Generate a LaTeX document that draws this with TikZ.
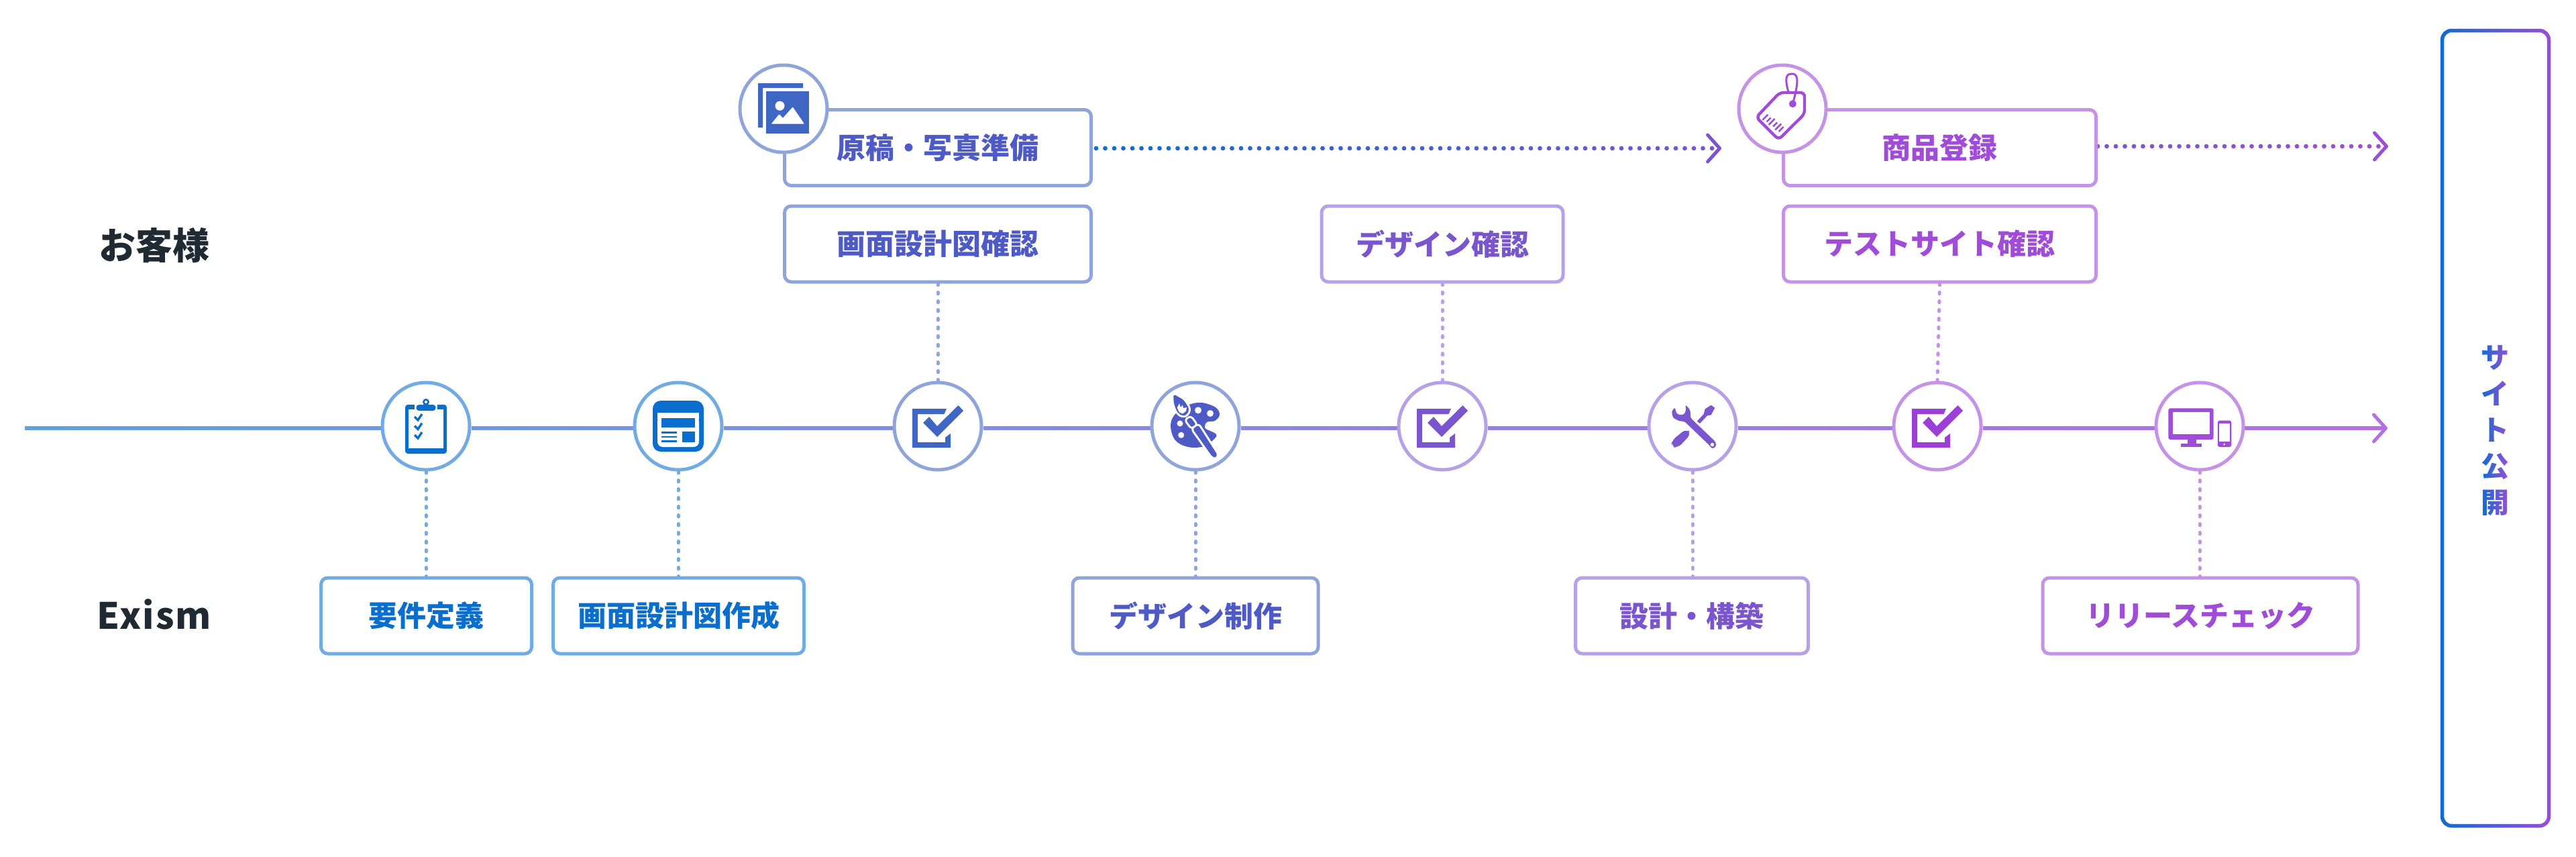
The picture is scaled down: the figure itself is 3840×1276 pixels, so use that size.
\documentclass[tikz,border=0pt]{standalone}
\usepackage{fontspec}
\setmainfont{Noto Sans CJK JP}
\newfontfamily\latinspaced{Noto Sans CJK JP}[LetterSpace=4]
\usetikzlibrary{arrows.meta,backgrounds}
\definecolor{ink}{HTML}{1F2A33}
% icon / text colours along the global blue-to-purple gradient
\definecolor{tA}{HTML}{0A6ECE}
\definecolor{tB}{HTML}{4E5AC6}
\definecolor{iB}{HTML}{4066C4}
\definecolor{tC}{HTML}{7B55CE}
\definecolor{tD}{HTML}{A04CD8}
\definecolor{iD}{HTML}{9C3FD4}
% lighter border colours
\definecolor{lA}{HTML}{70ACE2}
\definecolor{lB}{HTML}{90A4DC}
\definecolor{lC}{HTML}{B6A0E8}
\definecolor{lD}{HTML}{C692E8}
\tikzset{
  box/.style={draw, rounded corners=5pt, line width=2.5pt, fill=white, inner sep=0pt,
    minimum height=56.5pt, font=\fontsize{21.5}{26}\selectfont\bfseries},
  stepdot/.style={circle, draw, fill=white, line width=2.5pt, minimum size=65pt, inner sep=0pt},
  lane/.style={text=ink, inner sep=0pt},
  mainline/.style={draw=black, line width=2.75pt},
  mainarrow/.style={draw=black, line width=2.75pt, line cap=round,
    -{Straight Barb[round,length=9pt,width=20pt,line width=2.5pt]}},
  flowdots/.style={draw=black, line width=3.4pt, line cap=round, dash pattern=on 0pt off 6.75pt,
    -{Straight Barb[round,length=9pt,width=20pt,line width=2.5pt]}},
  linkdots/.style={line width=2.5pt, line cap=round, dash pattern=on 1.2pt off 5.3pt},
  tintstrip/.style={blend mode=screen, draw=none},
}
\newcommand{\iconcheck}[2]{%
  \begin{scope}[shift={(#1.center)}]
    \fill[#2] (-38,-26) -- (13,-26) -- (9.5,-18) -- (-30,-18) -- (-30,24) -- (11,24) -- (11,17)
      -- (19,11) -- (19,32) -- (-38,32) -- cycle;
    \fill[#2] (-22,-5) -- (-13,-14) -- (-1,0) -- (30.5,-31) -- (38,-23) -- (-1,16) -- cycle;
  \end{scope}}
\begin{document}
\begin{tikzpicture}[x=0.5pt,y=-0.5pt]
\useasboundingbox (0,0) rectangle (3840,1276);

% ---------- nodes: upper lane boxes
\node[box,draw=lB,text=tB,minimum width=228.5pt] (photo) at (1398,220) {原稿・写真準備};
\node[box,draw=lB,text=tB,minimum width=228.5pt] (confA) at (1398,363.5) {画面設計図確認};
\node[box,draw=lC,text=tC,minimum width=180pt] (confB) at (2150,363.5) {デザイン確認};
\node[box,draw=lD,text=tD,minimum width=233pt] (goods) at (2891.5,220) {商品登録};
\node[box,draw=lD,text=tD,minimum width=233pt] (confC) at (2891.5,363.5) {テストサイト確認};
% ---------- nodes: lower lane boxes
\node[box,draw=lA,text=tA,minimum width=157pt] (reqs) at (635.5,917.5) {要件定義};
\node[box,draw=lA,text=tA,minimum width=187pt] (wire) at (1011.5,917.5) {画面設計図作成};
\node[box,draw=lB,text=tB,minimum width=183pt] (dsgn) at (1782,917.5) {デザイン制作};
\node[box,draw=lC,text=tC,minimum width=173.5pt] (build) at (2522,917.5) {設計・構築};
\node[box,draw=lD,text=tD,minimum width=235pt] (check) at (3280,917.5) {リリースチェック};

% ---------- nodes: timeline circles
\node[stepdot,draw=lA] (c1) at (635,635) {};
\node[stepdot,draw=lA] (c2) at (1011,635) {};
\node[stepdot,draw=lB] (c3) at (1398,635) {};
\node[stepdot,draw=lB] (c4) at (1782,635) {};
\node[stepdot,draw=lC] (c5) at (2150,635) {};
\node[stepdot,draw=lC] (c6) at (2523,635) {};
\node[stepdot,draw=lD] (c7) at (2888,635) {};
\node[stepdot,draw=lD] (c8) at (3279,635) {};
\node[stepdot,draw=lB] (cPhoto) at (1168,162) {};
\node[stepdot,draw=lD] (cTag) at (2657,162) {};

% ---------- lane labels
\node[lane,font=\fontsize{27.5}{30}\selectfont\bfseries] (lanecust) at (230,366) {お客様};
\node[lane,font=\fontsize{27}{30}\selectfont\bfseries\latinspaced] (laneex) at (230,915) {Exism};

\coordinate (start) at (37,638);
\coordinate (end) at (3559,638);
\coordinate (endA) at (2566,221);
\coordinate (endB) at (3560,218);

\begin{scope}[on background layer]
  \fill[white] (0,0) rectangle (3840,1276);
  % timeline: black strokes tinted by a screen-blended gradient
  \draw[mainline] (start) -- ([yshift=-1.5pt]c1.west);
  \draw[mainline] ([yshift=-1.5pt]c1.east) -- ([yshift=-1.5pt]c2.west);
  \draw[mainline] ([yshift=-1.5pt]c2.east) -- ([yshift=-1.5pt]c3.west);
  \draw[mainline] ([yshift=-1.5pt]c3.east) -- ([yshift=-1.5pt]c4.west);
  \draw[mainline] ([yshift=-1.5pt]c4.east) -- ([yshift=-1.5pt]c5.west);
  \draw[mainline] ([yshift=-1.5pt]c5.east) -- ([yshift=-1.5pt]c6.west);
  \draw[mainline] ([yshift=-1.5pt]c6.east) -- ([yshift=-1.5pt]c7.west);
  \draw[mainline] ([yshift=-1.5pt]c7.east) -- ([yshift=-1.5pt]c8.west);
  \draw[mainarrow] ([yshift=-1.5pt]c8.east) -- (end);
  \shade[tintstrip,left color=tA!65!white,middle color=tC!62!lB,right color=tD!80!white] (30,610) rectangle (3570,668);
  % dotted arrows
  \draw[flowdots,shorten <=2.5pt] ([yshift=-0.5pt]photo.east) -- (endA);
  \shade[tintstrip,left color=tA,right color=tC] (1630,190) rectangle (2575,250);
  \draw[flowdots] ([yshift=1pt]goods.east) -- (endB);
  \shade[tintstrip,left color=tC,right color=tD] (3127,190) rectangle (3570,250);
  % vertical dotted links
  \draw[linkdots,draw=lB] (confA.south) -- (c3.north);
  \draw[linkdots,draw=lC] (confB.south) -- (c5.north);
  \draw[linkdots,draw=lD] (confC.south) -- (c7.north);
  \draw[linkdots,draw=lA] (c1.south) -- (c1.south |- reqs.north);
  \draw[linkdots,draw=lA] (c2.south) -- (c2.south |- wire.north);
  \draw[linkdots,draw=lB] (c4.south) -- (c4.south |- dsgn.north);
  \draw[linkdots,draw=lC] (c6.south) -- (c6.south |- build.north);
  \draw[linkdots,draw=lD] (c8.south) -- (c8.south |- check.north);
  % release box with gradient outline
  \node[draw=black,line width=2.75pt,rounded corners=7pt,inner sep=0pt,minimum width=79.5pt,minimum height=592.5pt] (site) at (3720,638) {};
  \shade[tintstrip,left color=tA,right color=tD] (3630,36) rectangle (3810,1240);
  \node[text=black,inner sep=0pt,align=center,font=\fontsize{21}{27}\selectfont\bfseries] (sitelabel) at (3719,642) {サ\\イ\\ト\\公\\開};
  \shade[tintstrip,left color=tA,right color=tD] (3698,500) rectangle (3741,785);
\end{scope}

% ---------- icons
% clipboard
\begin{scope}[shift={(c1.center)}]
  \fill[tA,rounded corners=2pt] (-31,-32) rectangle (31,41);
  \fill[white] (-26,-25) rectangle (26,33);
  \fill[white] (-17,-33) rectangle (17,-24);
  \fill[tA,rounded corners=2pt] (-14.5,-32) rectangle (14.5,-23);
  \fill[tA] (0,-36) circle[radius=5];
  \fill[white] (0,-36) circle[radius=2];
  \foreach \yy in {-13,0.5,14}{
    \draw[tA,line width=1.7pt] (-17,\yy-1) -- (-12,\yy+4) -- (-6,\yy-5);
  }
\end{scope}
% page layout
\begin{scope}[shift={(c2.center)}]
  \fill[tA,rounded corners=6pt] (-38,-38) rectangle (38,38);
  \fill[white,rounded corners=4pt] (-31,-15) -- (-31,31) -- (31,31) -- (31,-15) -- cycle;
  \fill[white] (-31,-20) rectangle (31,-10);
  \fill[tA] (-25,-12.3) rectangle (25,1.7);
  \fill[tA] (5.5,7.7) rectangle (25,24.3);
  \fill[tA] (-25,8) rectangle (-2,10.6);
  \fill[tA] (-25,14.7) rectangle (-2,17.3);
  \fill[tA] (-25,21.4) rectangle (-2,24);
\end{scope}
\iconcheck{c3}{iB}
% palette and brush
\begin{scope}[shift={(c4.center)}]
  \fill[tB] plot[smooth cycle,tension=.6] coordinates {(-12,-31) (9,-35) (30,-28) (36,-17) (29,-8) (17,-6) (14.3,2.7) (24,8) (31,12) (29,18) (13,30) (-11,31) (-30,21) (-37,0) (-31,-17)};
  \fill[white] (4,-23.7) circle[radius=5];
  \fill[white] (22,-19) circle[radius=5];
  \fill[white] (-23,-4) circle[radius=4.5];
  \fill[white] (-21.3,13.3) circle[radius=4.5];
  \path[preaction={draw=white,line width=3pt,line join=round},fill=tB,rounded corners=1.5pt] (-14,-9) -- (-7.3,-13.3) -- (1,-2.3) -- (-5.7,2) -- cycle;
  \path[preaction={draw=white,line width=3pt,line join=round},fill=tB,rounded corners=1.5pt] (-4,4.3) -- (4.3,-1.7) -- (32.7,42.7) -- (29.3,47.7) -- (24.3,44.3) -- cycle;
  \path[preaction={draw=white,line width=3pt,line join=round},fill=tB,rounded corners=2pt] (-33,-48) -- (-17.3,-39) -- (-9,-25.7) -- (-12.3,-17.3) -- (-19,-14.7) -- (-27.3,-20.7) -- (-32.3,-34) -- cycle;
  \fill[white] (-27.3,-27.3) -- (-24,-34) -- (-22.3,-28) -- (-19,-31.3) -- (-18,-26.7) -- (-13,-28) -- (-14,-22.3) -- (-19,-18.5) -- (-24,-20.7) -- cycle;
\end{scope}
\iconcheck{c5}{tC}
% wrench and screwdriver
\begin{scope}[shift={(c6.center)}]
  \fill[tC,rounded corners=1.5pt] (-25.7,-28.3) -- (-31.3,-22.3) -- (-29,-12.3) -- (-19,-7.3) -- (-12.3,-7.3) -- (25.3,28.7) -- (29.3,34) -- (35.5,30) -- (34.3,23.3) -- (-3,-12.3) -- (-3.3,-24) -- (-10.7,-32.3) -- (-9.7,-24) -- (-12.3,-17.3) -- (-20.7,-16.7) -- (-25,-20.7) -- cycle;
  \fill[white] (29.5,27.5) circle[radius=2.7];
  \fill[tC] (6.7,-7.3) -- (11,-4) -- (22,-15.7) -- (27.7,-16.7) -- (33.3,-27.3) -- (27.7,-31.3) -- (18.7,-25.7) -- (16.7,-18) -- cycle;
  \fill[tC,rounded corners=4pt] (-9,3.7) -- (-1.7,11) -- (-22.3,33) -- (-32,30) -- (-30.7,21) -- cycle;
\end{scope}
\iconcheck{c7}{iD}
% monitor and phone
\begin{scope}[shift={(c8.center)}]
  \fill[tD,rounded corners=1.5pt] (-46.7,-26.7) rectangle (20.7,20);
  \fill[white] (-40,-20.7) rectangle (15.3,11.7);
  \fill[tD] (-17.6,20) rectangle (-4.6,26);
  \fill[tD] (-28.3,25.7) rectangle (3,31);
  \fill[tD,rounded corners=1.5pt] (26.8,-8.3) rectangle (47.4,31);
  \fill[white] (29,-4) rectangle (45,23.3);
  \fill[white] (36.7,27) circle[radius=1.5];
\end{scope}
% photos
\begin{scope}[shift={(cPhoto.center)}]
  \fill[iB] (-38,-38) -- (29,-38) -- (29,-31) -- (-31,-31) -- (-31,28) -- (-38,28) -- cycle;
  \fill[iB] (-26,-26) rectangle (38,37);
  \fill[white] (-5.5,-4.3) circle[radius=7];
  \fill[white,rounded corners=0.5pt] (-18.4,22.7) -- (-6.4,8) -- (-1,14) -- (13.7,-2.7) -- (31,22.7) -- cycle;
\end{scope}
% price tag
\begin{scope}[shift={(cTag.center)}]
  \draw[tD,line width=2.2pt,line join=round,rounded corners=3pt] (-4,-24) -- (33,-24) -- (33,7.7) -- (-5.7,46) -- (-39,12.7) -- cycle;
  \draw[tD,line width=1.5pt,line cap=round] (8.7,-25.7) .. controls (2,-50) and (8,-52) .. (14,-52) .. controls (21,-52) and (27,-48) .. (15.3,-7.3);
  \fill[tD] (15.3,-7.3) circle[radius=5.5];
  \foreach \cx/\cy/\ln in {-25.7/12.7/4,-20.5/16.5/3,-16/19.5/4.5,-11/23.5/3,-6.3/27/4.5,-2/30.5/3.5}{
    \draw[tD,line width=1.25pt] (\cx-\ln,\cy+\ln) -- (\cx+\ln,\cy-\ln);
  }
\end{scope}
\end{tikzpicture}
\end{document}
